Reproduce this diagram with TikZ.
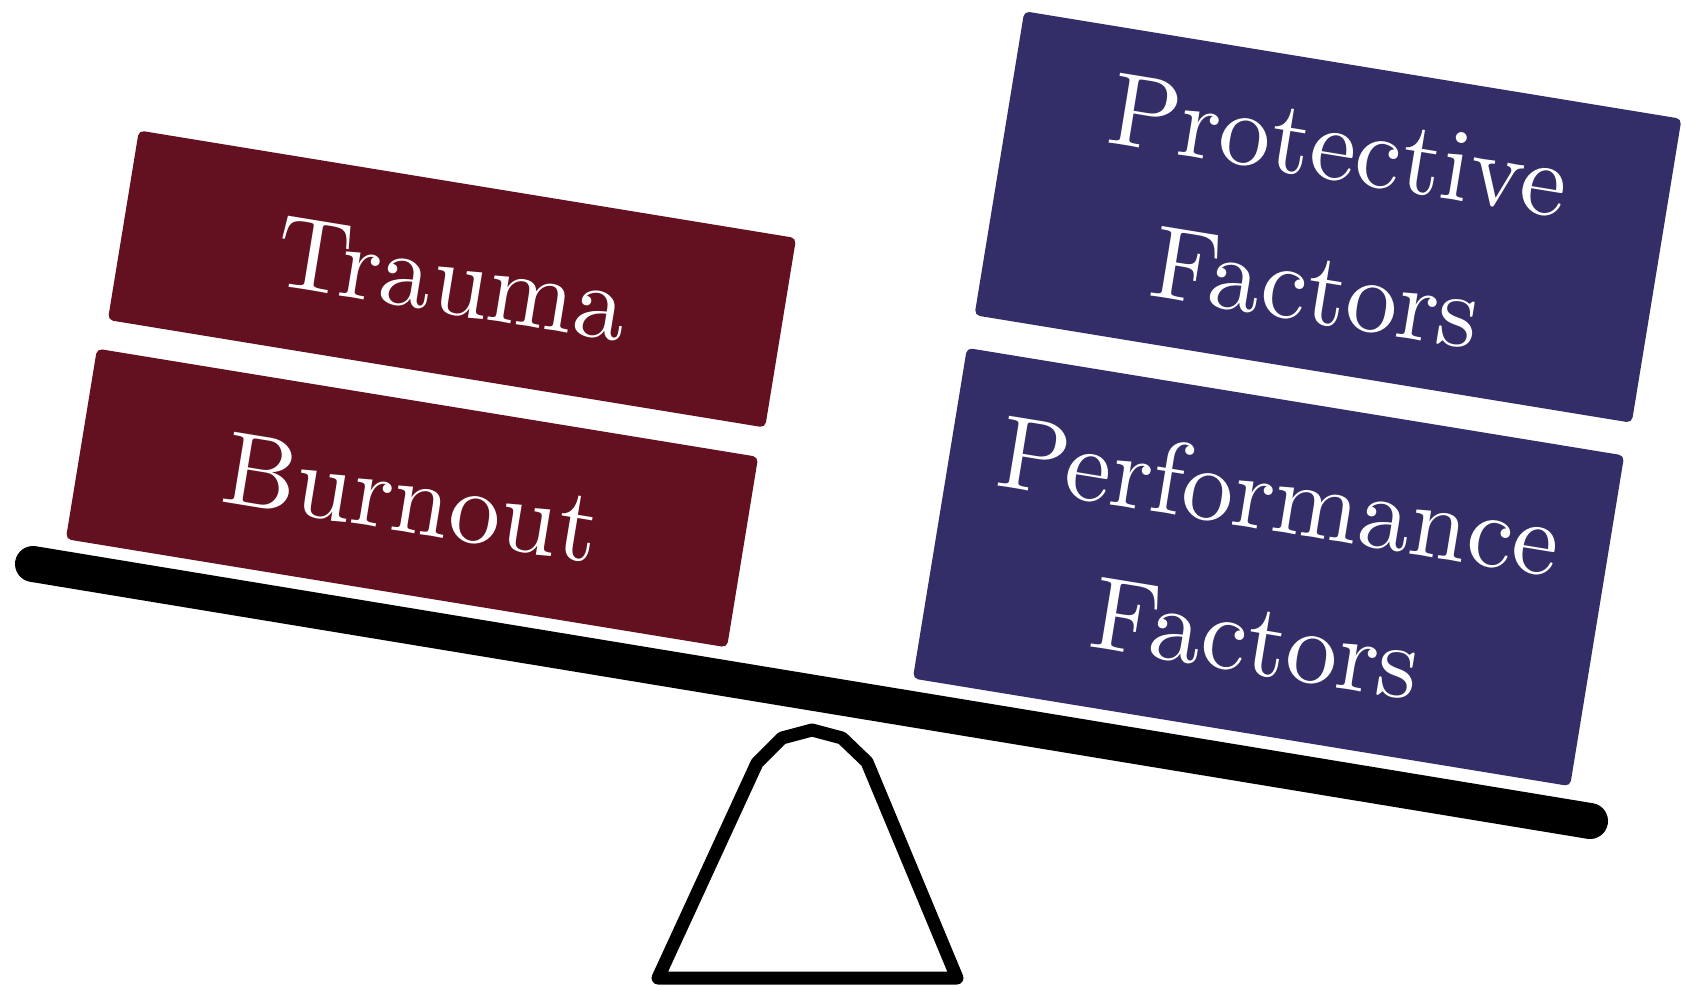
\documentclass[tikz,border=0pt]{standalone}
\usepackage{fontspec}
\newfontfamily\weightfont{lmroman10-regular}[Extension=.otf]
\definecolor{riskred}{RGB}{99,17,32}
\definecolor{copeblue}{RGB}{51,45,104}

\begin{document}
\begin{tikzpicture}[
    weight/.style={rotate=-9.3, minimum width=6.66cm, rounded corners=1.5pt,
      text=white, align=center, inner sep=0pt,
      font=\weightfont\fontsize{29.5}{41}\selectfont},
    risk/.style={weight, fill=riskred},
    cope/.style={weight, fill=copeblue}]
  \useasboundingbox (0,0) rectangle (16.86,9.86);
  % beam
  \coordinate (L) at (0.33,4.22);
  \coordinate (R) at (15.90,1.65);
  \draw[line width=3.6mm, line cap=round] (L) -- (R);
  % fulcrum
  \coordinate (F1) at (6.58,0.08);
  \coordinate (F2) at (7.57,2.23);
  \coordinate (F3) at (7.82,2.48);
  \coordinate (F4) at (8.12,2.56);
  \coordinate (F5) at (8.42,2.48);
  \coordinate (F6) at (8.67,2.24);
  \coordinate (F7) at (9.57,0.08);
  \draw[line width=1.3mm, line join=round, fill=white]
    (F1)--(F2)--(F3)--(F4)--(F5)--(F6)--(F7)--cycle;
  % weights on the left
  \node[risk, minimum height=1.92cm] (trauma) at (4.52,7.07) {Trauma};
  \node[risk, minimum height=1.93cm, minimum width=6.70cm] (burnout) at (4.12,4.88) {Burnout};
  % weights on the right
  \node[cope, minimum height=3.08cm] (protect) at (13.28,7.69) {Protective\\Factors};
  \node[cope, minimum height=3.35cm] (perform) at (12.685,4.19) {Performance\\Factors};
\end{tikzpicture}
\end{document}
